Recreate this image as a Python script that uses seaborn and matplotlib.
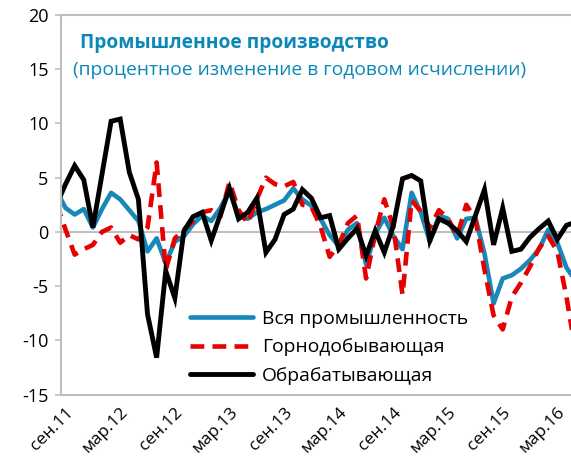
import matplotlib
matplotlib.use("Agg")
import matplotlib.pyplot as plt
import seaborn as sns
import numpy as np
import pandas as pd

# Monthly data, Aug 2011 .. May 2016 (first and last points fall just outside the visible window)
months = pd.date_range("2011-08-01", "2016-05-01", freq="MS")

total = [3.8, 2.2, 1.6, 2.1, 0.4, 2.1, 3.6, 3.0, 2.0, 1.0, -1.8, -0.6, -2.9, -0.9, -0.4,
         0.7, 1.5, 1.0, 2.2, 3.8, 1.5, 1.2, 1.8, 2.1, 2.5, 2.9, 4.0, 3.0, 2.4, 1.2, -0.3,
         -1.3, 0.2, 0.8, -3.0, -0.2, 1.3, -0.4, -1.6, 3.6, 1.8, -0.9, 1.5, 1.2, -0.6, 1.2,
         1.3, -2.0, -6.6, -4.3, -4.0, -3.4, -2.6, -1.6, 0.2, -1.0, -3.3, -4.5]

mining = [2.6, 0.2, -2.1, -1.6, -1.2, 0.0, 0.4, -1.0, -0.3, -0.7, 0.4, 6.4, -3.5, -0.6,
          0.2, 1.0, 1.8, 2.0, 1.4, 4.6, 2.0, 0.8, 3.0, 5.0, 4.4, 4.2, 4.6, 2.5, 2.3, 0.5,
          -2.3, -1.2, 0.8, 1.5, -4.3, -0.2, 3.0, 0.4, -5.8, 2.9, 1.9, 0.4, 2.0, 1.2, -0.4,
          2.5, 1.2, -3.5, -7.7, -9.0, -6.0, -4.7, -3.2, -1.5, -0.4, -1.8, -6.0, -11.0]

manufacturing = [2.5, 4.4, 6.1, 4.8, 0.4, 5.3, 10.2, 10.4, 5.5, 3.0, -7.6, -11.6, -3.6,
                 -6.1, 0.1, 1.4, 1.8, -0.8, 1.6, 4.0, 1.2, 1.8, 3.1, -1.9, -0.7, 1.6, 2.1,
                 3.9, 3.1, 1.3, 1.5, -1.6, -0.6, 0.3, -2.2, 0.1, -1.9, 0.6, 4.9, 5.2, 4.7,
                 -0.8, 1.2, 0.8, 0.1, -0.9, 1.5, 3.9, -1.2, 2.2, -1.8, -1.6, -0.5, 0.3, 1.0,
                 -0.7, 0.6, 0.9]

tick_labels = ["сен.11", "мар.12", "сен.12", "мар.13", "сен.13",
               "мар.14", "сен.14", "мар.15", "сен.15", "мар.16"]
series_names = ["Вся промышленность", "Горнодобывающая", "Обрабатывающая"]
title = "Промышленное производство"
subtitle = "(процентное изменение в годовом исчислении)"

BLUE = "#1788b8"
RED = "#e60000"
TEAL = "#0b88b8"
GRAY = "#bfbfbf"

sns.set_theme(style="white")
plt.rcParams["font.family"] = ["Open Sans", "DejaVu Sans"]
plt.rcParams["axes.unicode_minus"] = False

idx = np.arange(len(months)) - 1  # Sep 2011 -> 0
df = pd.DataFrame({"i": idx, "total": total, "mining": mining, "manuf": manufacturing})

fig = plt.figure(figsize=(5.71, 4.71), dpi=100)
ax = fig.add_axes([61 / 571, 1 - 394.5 / 471, 1 - 61 / 571, (394.5 - 15) / 471])

sns.lineplot(data=df, x="i", y="total", ax=ax, color=BLUE, linewidth=3.3,
             label=series_names[0], solid_joinstyle="round")
sns.lineplot(data=df, x="i", y="mining", ax=ax, color=RED, linewidth=3.3,
             label=series_names[1])
sns.lineplot(data=df, x="i", y="manuf", ax=ax, color="black", linewidth=3.5,
             label=series_names[2], solid_joinstyle="miter")
ax.lines[1].set_dashes((3.0, 1.8))
ax.lines[1].set_dash_capstyle("butt")

ax.set_xlim(-0.5, 55.5)
ax.set_ylim(-15, 20)
ax.set_yticks(np.arange(-15, 21, 5))
ax.set_xlabel("")
ax.set_ylabel("")

# zero axis line with small tick marks at 6-month boundaries
ax.spines["bottom"].set_position(("data", 0))
ax.spines["bottom"].set_color(GRAY)
ax.spines["bottom"].set_linewidth(1.5)
ax.spines["bottom"].set_zorder(1)
ax.set_xticks(np.arange(5.5, 55, 6))
ax.tick_params(axis="x", direction="in", length=4, width=1.2, color=GRAY, labelbottom=False)

for s in ["left", "top"]:
    ax.spines[s].set_color(GRAY)
    ax.spines[s].set_linewidth(1.5)
ax.spines["right"].set_visible(False)
ax.tick_params(axis="y", direction="out", length=4, width=1.2, color=GRAY,
               labelsize=13, labelcolor="black", pad=5, left=True)

sec = ax.secondary_xaxis(0)
sec.set_xticks(np.arange(0, 55, 6))
sec.set_xticklabels(tick_labels, rotation=45, ha="right", rotation_mode="anchor",
                    fontsize=12.5, color="black")
sec.tick_params(axis="x", length=0, pad=7)
sec.spines["bottom"].set_color(GRAY)
sec.spines["bottom"].set_linewidth(1.5)

fig.text(80 / 571, 1 - 43 / 471, title, color=TEAL, fontsize=13.8, fontweight="bold",
         ha="left", va="center")
fig.text(73 / 571, 1 - 70 / 471, subtitle, color=TEAL, fontsize=13.9, ha="left", va="center")

leg = ax.legend(loc="upper left", bbox_to_anchor=((182 - 61) / 510, 1 - (302 - 15) / 379.5),
                frameon=False, fontsize=13.9, handlelength=3.3, handletextpad=0.45,
                labelspacing=0.55, borderaxespad=0)
for t in leg.get_texts():
    t.set_color("black")

fig.savefig("out.png", dpi=100)
